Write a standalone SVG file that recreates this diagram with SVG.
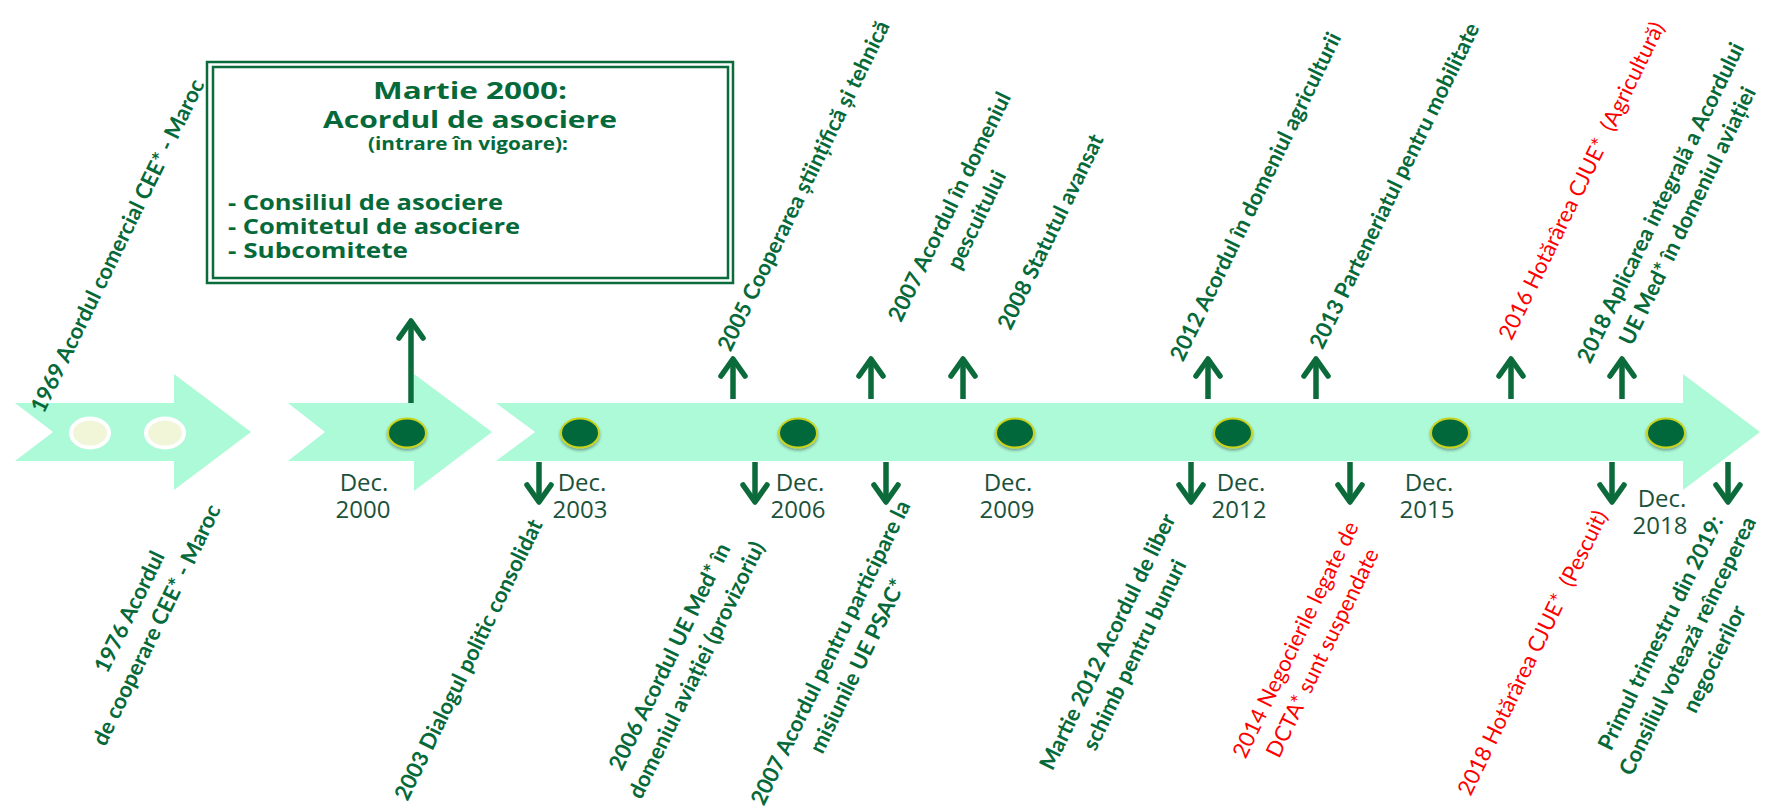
<svg xmlns="http://www.w3.org/2000/svg" width="1768" height="809" viewBox="0 0 1768 809">
<defs>
<style>
.band{fill:#adfad8}
.dot{fill:#05673a;stroke:#c9d31c;stroke-width:2}
.ldot{fill:#f1f6d8;stroke:#ffffff;stroke-width:4}
.conn line{stroke:#0b6b3b;stroke-width:5.5}
.lbl{font-family:Lato,"Open Sans",sans-serif;font-weight:700;font-size:22px;fill:#05693a;white-space:pre}
.red{font-family:Lato,"Open Sans",sans-serif;font-weight:400;font-size:22px;fill:#ff0000;white-space:pre}
.dec{font-family:"Open Sans","Noto Sans",sans-serif;font-size:24px;fill:#1a523b;text-anchor:middle}
.box{fill:none;stroke:#0b6b3b;stroke-width:2.5}
.bt{font-family:"Open Sans","Noto Sans",sans-serif;font-weight:700;fill:#05693a}
</style>
<marker id="ah" markerUnits="userSpaceOnUse" markerWidth="50" markerHeight="50" viewBox="-25 -25 50 50" refX="0" refY="0" orient="auto" overflow="visible">
<path d="M-17,-12 L0,0 L-17,12" fill="none" stroke="#0b6b3b" stroke-width="5.5" stroke-linecap="round" stroke-linejoin="round"/>
</marker>
<filter id="sh" x="-30%" y="-30%" width="160%" height="170%"><feDropShadow dx="0" dy="2" stdDeviation="1.5" flood-color="#000" flood-opacity="0.35"/></filter>
</defs>
<rect width="1768" height="809" fill="#ffffff"/>

<g id="timeline">
<polygon class="band" points="15,403 174,403 174,374 251,432 174,490 174,461 15,461 53,432"/>
<polygon class="band" points="288,403 414,403 414,374 492,432 414,491 414,461 288,461 325,432"/>
<polygon class="band" points="496,403 1683,403 1683,374 1760,432 1683,490 1683,461 496,461 535,432"/>
</g>

<g id="dots">
<ellipse class="ldot" cx="90" cy="433" rx="19" ry="14.5"/>
<ellipse class="ldot" cx="165" cy="433" rx="19" ry="14.5"/>
<g filter="url(#sh)">
<ellipse class="dot" cx="407" cy="433" rx="19" ry="14.5"/>
<ellipse class="dot" cx="580" cy="433" rx="19" ry="14.5"/>
<ellipse class="dot" cx="798" cy="433" rx="19" ry="14.5"/>
<ellipse class="dot" cx="1015" cy="433" rx="19" ry="14.5"/>
<ellipse class="dot" cx="1233" cy="433" rx="19" ry="14.5"/>
<ellipse class="dot" cx="1450" cy="433" rx="19" ry="14.5"/>
<ellipse class="dot" cx="1666" cy="433" rx="19" ry="14.5"/>
</g>
</g>

<g id="connectors" class="conn">
<line x1="411" y1="403" x2="411" y2="321" marker-end="url(#ah)"/>
<line x1="733" y1="399" x2="733" y2="359" marker-end="url(#ah)"/>
<line x1="871" y1="399" x2="871" y2="359" marker-end="url(#ah)"/>
<line x1="963" y1="399" x2="963" y2="359" marker-end="url(#ah)"/>
<line x1="1208" y1="399" x2="1208" y2="359" marker-end="url(#ah)"/>
<line x1="1316" y1="399" x2="1316" y2="359" marker-end="url(#ah)"/>
<line x1="1511" y1="399" x2="1511" y2="359" marker-end="url(#ah)"/>
<line x1="1622" y1="399" x2="1622" y2="359" marker-end="url(#ah)"/>
<line x1="539" y1="462" x2="539" y2="502" marker-end="url(#ah)"/>
<line x1="755" y1="462" x2="755" y2="502" marker-end="url(#ah)"/>
<line x1="886" y1="462" x2="886" y2="502" marker-end="url(#ah)"/>
<line x1="1191" y1="462" x2="1191" y2="502" marker-end="url(#ah)"/>
<line x1="1350" y1="462" x2="1350" y2="502" marker-end="url(#ah)"/>
<line x1="1612" y1="462" x2="1612" y2="502" marker-end="url(#ah)"/>
<line x1="1728" y1="462" x2="1728" y2="502" marker-end="url(#ah)"/>
</g>

<g id="box-2000">
<rect class="box" x="207" y="62" width="526" height="221"/>
<rect class="box" x="213" y="67" width="515" height="211"/>
<text class="bt" x="470" y="99" font-size="23" text-anchor="middle" textLength="194" lengthAdjust="spacingAndGlyphs">Martie 2000:</text>
<text class="bt" x="470" y="128" font-size="23" text-anchor="middle" textLength="294" lengthAdjust="spacingAndGlyphs">Acordul de asociere</text>
<text class="bt" x="468" y="150" font-size="17" text-anchor="middle" textLength="200" lengthAdjust="spacingAndGlyphs">(intrare în vigoare):</text>
<text class="bt" x="228" y="210" font-size="21" textLength="275" lengthAdjust="spacingAndGlyphs">- Consiliul de asociere</text>
<text class="bt" x="228" y="234" font-size="21" textLength="292" lengthAdjust="spacingAndGlyphs">- Comitetul de asociere</text>
<text class="bt" x="228" y="258" font-size="21" textLength="180" lengthAdjust="spacingAndGlyphs">- Subcomitete</text>
</g>

<g id="dec-labels">
<text class="dec"><tspan x="364" y="491">Dec.</tspan><tspan x="363" y="518">2000</tspan></text>
<text class="dec"><tspan x="582" y="491">Dec.</tspan><tspan x="580" y="518">2003</tspan></text>
<text class="dec"><tspan x="800" y="491">Dec.</tspan><tspan x="798" y="518">2006</tspan></text>
<text class="dec"><tspan x="1008" y="491">Dec.</tspan><tspan x="1007" y="518">2009</tspan></text>
<text class="dec"><tspan x="1241" y="491">Dec.</tspan><tspan x="1239" y="518">2012</tspan></text>
<text class="dec"><tspan x="1429" y="491">Dec.</tspan><tspan x="1427" y="518">2015</tspan></text>
<text class="dec"><tspan x="1662" y="507">Dec.</tspan><tspan x="1660" y="534">2018</tspan></text>
</g>

<g id="ev-1969" transform="translate(118,246) rotate(-64)"><text class="lbl" text-anchor="middle" y="7">1969 Acordul comercial CEE* - Maroc</text></g>
<g id="ev-2005" transform="translate(804,186) rotate(-64)"><text class="lbl" text-anchor="middle" y="7">2005 Cooperarea științifică și tehnică</text></g>
<g id="ev-2007a" transform="translate(950,207) rotate(-64)"><text class="lbl" text-anchor="middle"><tspan x="0" y="7">2007 Acordul în domeniul</tspan><tspan x="0" dy="30">pescuitului</tspan></text></g>
<g id="ev-2008" transform="translate(1051,232) rotate(-64)"><text class="lbl" text-anchor="middle" y="7">2008 Statutul avansat</text></g>
<g id="ev-2012a" transform="translate(1256,197) rotate(-64)"><text class="lbl" text-anchor="middle" y="7">2012 Acordul în domeniul agriculturii</text></g>
<g id="ev-2013" transform="translate(1395,186) rotate(-64)"><text class="lbl" text-anchor="middle" y="7">2013 Parteneriatul pentru mobilitate</text></g>
<g id="ev-2016" transform="translate(1582,181) rotate(-64)"><text class="red" text-anchor="middle" y="7">2016 Hotărârea CJUE*  (Agricultură)</text></g>
<g id="ev-2018a" transform="translate(1661,203) rotate(-64)"><text class="lbl" text-anchor="middle"><tspan x="0" y="7">2018 Aplicarea integrală a Acordului</tspan><tspan x="0" dy="30">UE Med* în domeniul aviației</tspan></text></g>

<g id="ev-1976" transform="translate(130,612) rotate(-64)"><text class="lbl" text-anchor="middle"><tspan x="0" y="7">1976 Acordul</tspan><tspan x="0" dy="30">de cooperare CEE* - Maroc</tspan></text></g>
<g id="ev-2003" transform="translate(469,660) rotate(-64)"><text class="lbl" text-anchor="middle" y="7">2003 Dialogul politic consolidat</text></g>
<g id="ev-2006" transform="translate(670,657) rotate(-64)"><text class="lbl" text-anchor="middle"><tspan x="0" y="7">2006 Acordul UE Med* în</tspan><tspan x="0" dy="30">domeniul aviației (provizoriu)</tspan></text></g>
<g id="ev-2007b" transform="translate(831,653) rotate(-64)"><text class="lbl" text-anchor="middle"><tspan x="0" y="7">2007 Acordul pentru participare la</tspan><tspan x="0" dy="30">misiunile UE PSAC*</tspan></text></g>
<g id="ev-2012b" transform="translate(1108,642) rotate(-64)"><text class="lbl" text-anchor="middle"><tspan x="0" y="7">Martie 2012 Acordul de liber</tspan><tspan x="0" dy="30">schimb pentru bunuri</tspan></text></g>
<g id="ev-2014" transform="translate(1296,640) rotate(-64)"><text class="red" text-anchor="middle"><tspan x="0" y="7">2014 Negocierile legate de</tspan><tspan x="0" dy="30">DCTA* sunt suspendate</tspan></text></g>
<g id="ev-2018b" transform="translate(1533,653) rotate(-64)"><text class="red" text-anchor="middle" y="7">2018 Hotărârea CJUE*  (Pescuit)</text></g>
<g id="ev-2019" transform="translate(1661,633) rotate(-64)"><text class="lbl" text-anchor="middle"><tspan x="0" y="7">Primul trimestru din 2019:</tspan><tspan x="0" dy="30">Consiliul votează reînceperea</tspan><tspan x="0" dy="30">negocierilor</tspan></text></g>
</svg>
